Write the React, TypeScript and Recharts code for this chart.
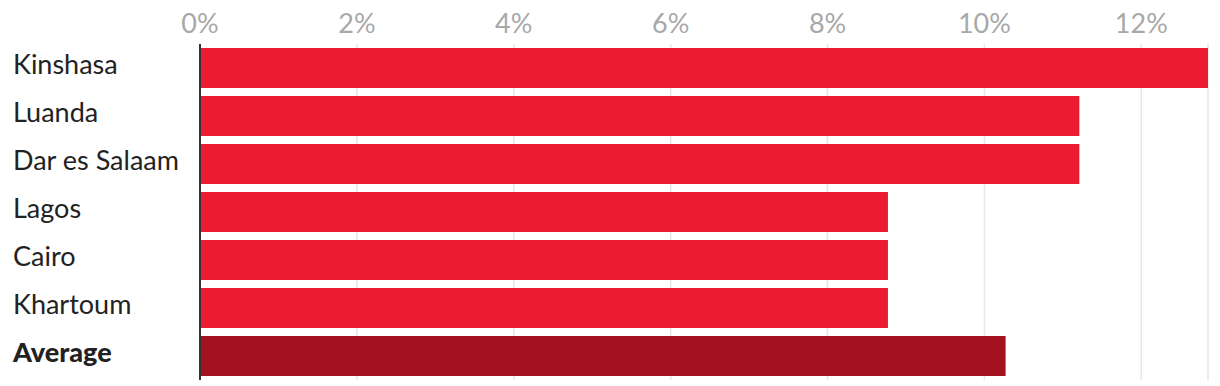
import React from 'react';
import { BarChart, Bar, XAxis, YAxis, CartesianGrid, Cell } from 'recharts';

const cities = ['Kinshasa', 'Luanda', 'Dar es Salaam', 'Lagos', 'Cairo', 'Khartoum', 'Average'];
const growth = [12.85, 11.21, 11.21, 8.77, 8.77, 8.77, 10.27];
const xTicks = [0, 2, 4, 6, 8, 10, 12];
const barColor = '#EC1B30';
const avgColor = '#A3121F';

const data = cities.map((c, i) => ({ city: c, value: growth[i] }));

const FONT = 'Lato, "Noto Sans", sans-serif';

const XTick = (props: any) => {
  const { x, payload } = props;
  return (
    <text x={x} y={33} textAnchor="middle" fill="#a8a8a8" fontSize={27} fontFamily={FONT} fontWeight={400}>
      {payload.value}%
    </text>
  );
};

const YTick = (props: any) => {
  const { y, payload } = props;
  const isAvg = payload.value === 'Average';
  return (
    <text x={13} y={y} dy={6} textAnchor="start" fill="#222222" fontSize={27} fontFamily={FONT} fontWeight={isAvg ? 900 : 400}>
      {payload.value}
    </text>
  );
};

export default function App() {
  return (
    <div style={{ width: 1220, height: 386, margin: '-8px 0 0 -8px' }}>
      <BarChart
        width={1220}
        height={386}
        data={data}
        layout="vertical"
        margin={{ top: 0, right: 12, bottom: 6, left: 0 }}
      >
        <CartesianGrid horizontal={false} stroke="#e6e6e6" strokeWidth={1.5} />
        <XAxis
          type="number"
          orientation="top"
          domain={[0, 'dataMax']}
          ticks={xTicks}
          height={44}
          axisLine={false}
          tickLine={false}
          tick={<XTick />}
        />
        <YAxis
          type="category"
          dataKey="city"
          width={200}
          axisLine={{ stroke: '#333333', strokeWidth: 2 }}
          tickLine={false}
          tick={<YTick />}
        />
        <Bar dataKey="value" barSize={40} isAnimationActive={false}>
          {data.map((d, i) => (
            <Cell key={i} fill={d.city === 'Average' ? avgColor : barColor} />
          ))}
        </Bar>
      </BarChart>
    </div>
  );
}
